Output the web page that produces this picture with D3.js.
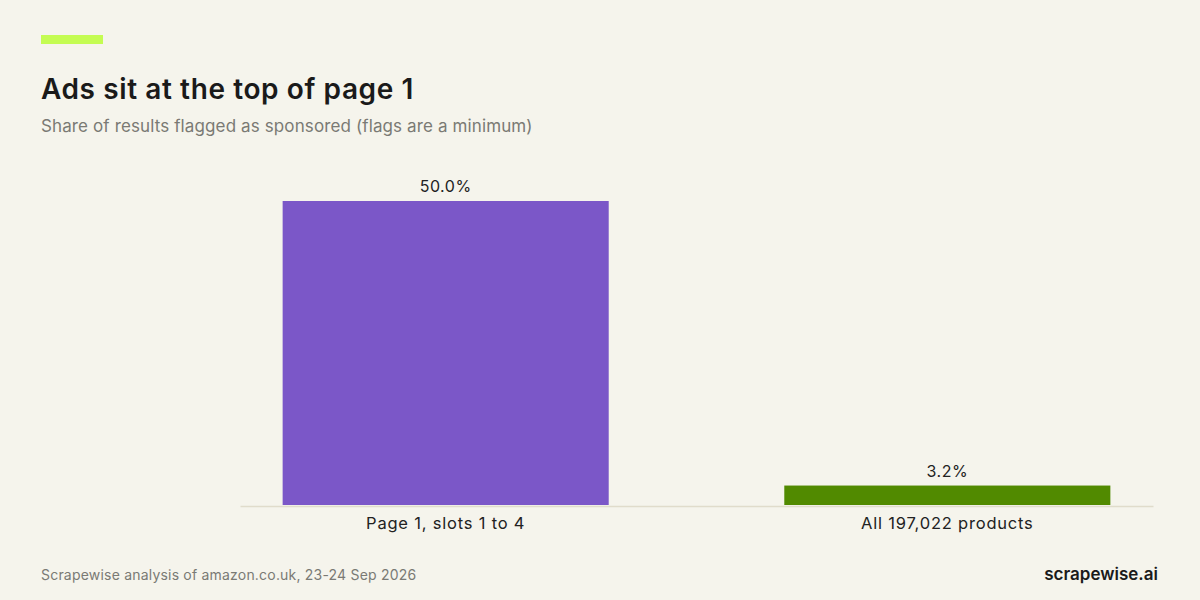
<!DOCTYPE html>
<html>
<head>
<meta charset="utf-8">
<script src="https://cdn.jsdelivr.net/npm/d3@7"></script>
<style>
  html, body { margin: 0; padding: 0; background: #f5f4ec; }
  svg { display: block; font-family: "Inter", "Noto Sans", sans-serif; }
</style>
</head>
<body>
<script>
const categories = ["Page 1, slots 1 to 4", "All 197,022 products"];
const values = [50.0, 3.2];
const barColors = ["#7b57c8", "#518a00"];

const width = 1200, height = 600;
const margin = { left: 240, right: 47, top: 201, bottom: 95 };

var svg = d3.select("body").append("svg")
    .attr("width", width)
    .attr("height", height);

svg.append("rect")
    .attr("width", width).attr("height", height)
    .attr("fill", "#f5f4ec");

// accent stripe
svg.append("rect")
    .attr("x", 41).attr("y", 35)
    .attr("width", 62).attr("height", 9)
    .attr("fill", "#c4fc52");

svg.append("text")
    .text("Ads sit at the top of page 1")
    .attr("x", 41).attr("y", 99)
    .style("font-size", "28px")
    .style("font-weight", "600")
    .style("letter-spacing", "0.6px")
    .style("fill", "#1a1a1a");

svg.append("text")
    .text("Share of results flagged as sponsored (flags are a minimum)")
    .attr("x", 41).attr("y", 132)
    .style("font-size", "17px")
    .style("letter-spacing", "0.12px")
    .style("fill", "#7a7a74");

var xScale = d3.scaleBand()
    .domain(categories)
    .range([margin.left, width - margin.right])
    .paddingInner(0.35)
    .paddingOuter(0.085);

var yScale = d3.scaleLinear()
    .domain([0, d3.max(values)])
    .range([height - margin.bottom, margin.top]);

var data = categories.map(function (c, i) {
    return { name: c, value: values[i], color: barColors[i] };
});

var bars = svg.selectAll("g.bar")
    .data(data)
    .enter().append("g")
    .attr("class", "bar");

bars.append("rect")
    .attr("x", function (d) { return xScale(d.name); })
    .attr("y", function (d) { return yScale(d.value); })
    .attr("width", xScale.bandwidth())
    .attr("height", function (d) { return yScale(0) - yScale(d.value); })
    .attr("fill", function (d) { return d.color; });

bars.append("text")
    .text(function (d) { return d.value.toFixed(1) + "%"; })
    .attr("x", function (d) { return xScale(d.name) + xScale.bandwidth() / 2; })
    .attr("y", function (d) { return yScale(d.value) - 9; })
    .style("text-anchor", "middle")
    .style("font-size", "16px")
    .style("letter-spacing", "0.5px")
    .style("fill", "#222");

// baseline + category labels
var xAxis = svg.append("g")
    .attr("transform", "translate(0," + (yScale(0) + 1) + ")")
    .call(d3.axisBottom(xScale).tickSize(0).tickPadding(11));
xAxis.select(".domain").attr("stroke", "#e0dccb").attr("stroke-width", 1.5);
xAxis.selectAll("text")
    .style("font-family", "Inter, 'Noto Sans', sans-serif")
    .style("font-size", "16.5px")
    .style("letter-spacing", "0.8px")
    .style("fill", "#222");

svg.append("text")
    .text("Scrapewise analysis of amazon.co.uk, 23-24 Sep 2026")
    .attr("x", 41).attr("y", 580)
    .style("font-size", "14px")
    .style("letter-spacing", "0.2px")
    .style("fill", "#7a7a74");

svg.append("text")
    .text("scrapewise.ai")
    .attr("x", 1158).attr("y", 580)
    .style("text-anchor", "end")
    .style("font-size", "17px")
    .style("font-weight", "600")
    .style("fill", "#1a1a1a");
</script>
</body>
</html>
